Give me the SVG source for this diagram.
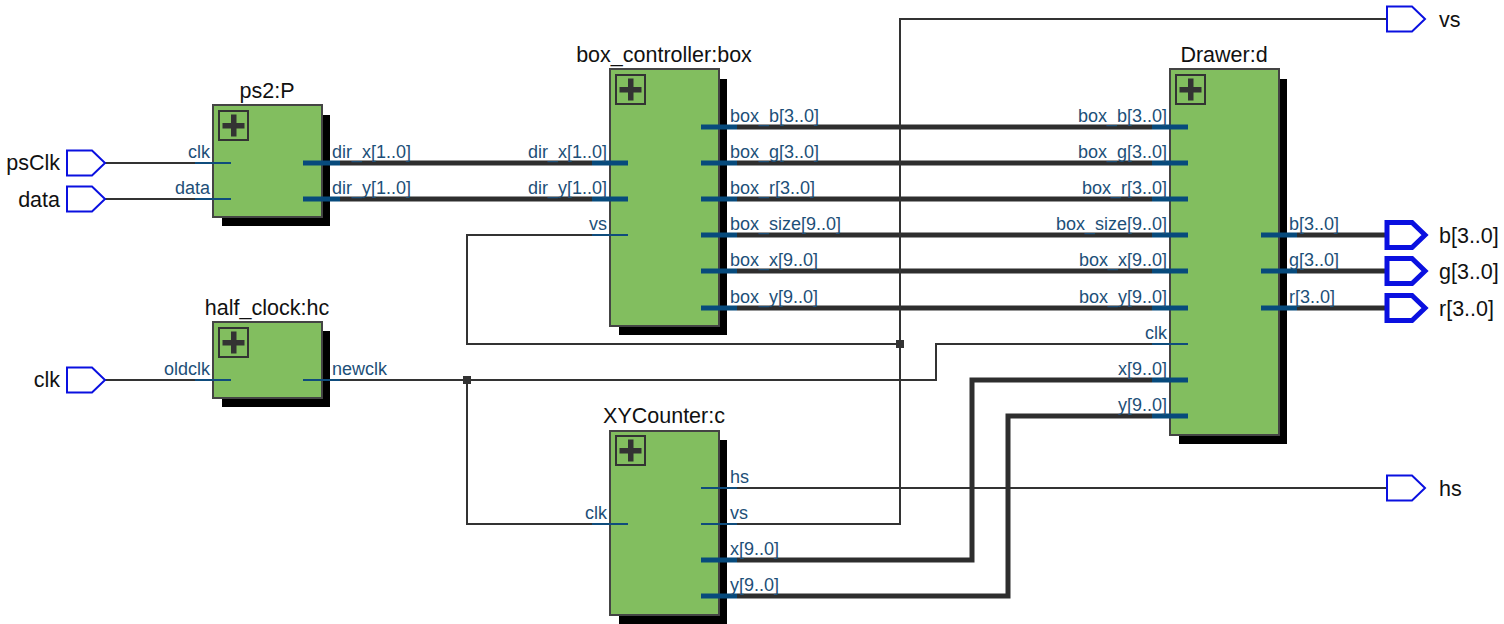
<svg xmlns="http://www.w3.org/2000/svg" width="1504" height="624" viewBox="0 0 1504 624">
<style>
text{font-family:"Liberation Sans",Arial,sans-serif}
.t{font-size:21.5px;fill:#111}
.m{text-anchor:middle}
.e{text-anchor:end}
.l{font-size:18px;fill:#1d4f78}
.w{fill:none;stroke:#333;stroke-width:2}
.b{fill:none;stroke:#2e2e2e;stroke-width:5}
.p{stroke:#0f4c7c;stroke-width:2;fill:none}
.q{stroke:#074a7c;stroke-width:5;fill:none}
.s{fill:#000}
.r{fill:#82be5f;stroke:#444;stroke-width:2}
.x{fill:none;stroke:#333;stroke-width:2}
.c{fill:#333}
.i{fill:#fff;stroke:#0a10e0;stroke-width:2}
.o{fill:#fff;stroke:#0a10e0;stroke-width:5}
</style>
<defs>
<g id="plus"><rect class="x" x="0" y="0" width="29" height="29"/><rect class="c" x="3.500" y="12" width="22" height="5.500"/><rect class="c" x="12" y="3.500" width="5.500" height="22"/></g>
<path id="port" d="M0-12.500H25L38 0 25 12.500H0Z"/>
</defs>
<g id="connectors">
<path class="w" d="M105 163H195M105 199H195M105 380H195"/>
<path class="b" d="M340 163H592M340 199H592"/>
<path class="b" d="M737 127H1152M737 163H1152M737 199H1152M737 235H1152M737 271H1152M737 308H1152"/>
<path class="b" d="M1297 235H1386M1297 271H1386M1297 308H1386"/>
<path class="w" d="M592 235H467V344H900"/>
<path class="w" d="M340 380H936V344H1152"/>
<path class="w" d="M467 380V524H592"/>
<path class="w" d="M737 524H900V19H1386"/>
<path class="w" d="M737 488H1386"/>
<path class="b" d="M737 560H972V380H1152"/>
<path class="b" d="M737 596H1008V416H1152"/>
<rect class="c" x="463" y="376" width="8" height="8"/>
<rect class="c" x="896" y="340" width="8" height="8"/>
</g>
<g id="port-psClk"><use href="#port" class="i" x="67" y="163"/><text class="t e" x="60" y="170">psClk</text></g>
<g id="port-data"><use href="#port" class="i" x="67" y="199"/><text class="t e" x="60" y="207">data</text></g>
<g id="port-clk"><use href="#port" class="i" x="67" y="380"/><text class="t e" x="60" y="387">clk</text></g>
<g id="port-vs"><use href="#port" class="i" x="1387" y="19"/><text class="t" x="1439" y="27">vs</text></g>
<g id="port-hs"><use href="#port" class="i" x="1387" y="488"/><text class="t" x="1439" y="496">hs</text></g>
<g id="port-b"><use href="#port" class="o" x="1387" y="235"/><text class="t" x="1439" y="243">b[3..0]</text></g>
<g id="port-g"><use href="#port" class="o" x="1387" y="271"/><text class="t" x="1439" y="279">g[3..0]</text></g>
<g id="port-r"><use href="#port" class="o" x="1387" y="308"/><text class="t" x="1439" y="316">r[3..0]</text></g>
<g id="node-ps2">
<rect class="s" x="222" y="115" width="108" height="111"/><rect class="r" x="213" y="105" width="109" height="112"/>
<use href="#plus" x="219" y="111"/>
<text class="t m" x="267" y="98">ps2:P</text>
<path class="p" d="M195 163H231M195 199H231"/><path class="q" d="M303 163H340M303 199H340"/>
<text class="l e" x="210" y="158">clk</text><text class="l e" x="210" y="194">data</text>
<text class="l" x="332" y="158">dir_x[1..0]</text><text class="l" x="332" y="194">dir_y[1..0]</text>
</g>
<g id="node-half_clock">
<rect class="s" x="222" y="331" width="108" height="76"/><rect class="r" x="213" y="322" width="109" height="76"/>
<use href="#plus" x="219" y="328"/>
<text class="t m" x="267" y="315">half_clock:hc</text>
<path class="p" d="M195 380H231M303 380H340"/>
<text class="l e" x="210" y="375">oldclk</text><text class="l" x="332" y="375">newclk</text>
</g>
<g id="node-box_controller">
<rect class="s" x="619" y="79" width="108" height="256"/><rect class="r" x="610" y="69" width="109" height="257"/>
<use href="#plus" x="616" y="75"/>
<text class="t m" x="664" y="62">box_controller:box</text>
<path class="q" d="M592 163H628M592 199H628M701 127H737M701 163H737M701 199H737M701 235H737M701 271H737M701 308H737"/>
<path class="p" d="M592 235H628"/>
<text class="l e" x="607" y="158">dir_x[1..0]</text><text class="l e" x="607" y="194">dir_y[1..0]</text><text class="l e" x="607" y="230">vs</text>
<text class="l" x="730" y="122">box_b[3..0]</text><text class="l" x="730" y="158">box_g[3..0]</text><text class="l" x="730" y="194">box_r[3..0]</text><text class="l" x="730" y="230">box_size[9..0]</text><text class="l" x="730" y="266">box_x[9..0]</text><text class="l" x="730" y="303">box_y[9..0]</text>
</g>
<g id="node-XYCounter">
<rect class="s" x="619" y="440" width="108" height="184"/><rect class="r" x="610" y="431" width="109" height="184"/>
<use href="#plus" x="616" y="436"/>
<text class="t m" x="664" y="423">XYCounter:c</text>
<path class="p" d="M592 524H628M701 488H737M701 524H737"/><path class="q" d="M701 560H737M701 596H737"/>
<text class="l e" x="607" y="519">clk</text>
<text class="l" x="730" y="483">hs</text><text class="l" x="730" y="519">vs</text><text class="l" x="730" y="555">x[9..0]</text><text class="l" x="730" y="591">y[9..0]</text>
</g>
<g id="node-Drawer">
<rect class="s" x="1179" y="79" width="108" height="365"/><rect class="r" x="1170" y="69" width="109" height="366"/>
<use href="#plus" x="1176" y="75"/>
<text class="t m" x="1224" y="62">Drawer:d</text>
<path class="q" d="M1152 127H1188M1152 163H1188M1152 199H1188M1152 235H1188M1152 271H1188M1152 308H1188M1152 380H1188M1152 416H1188M1261 235H1297M1261 271H1297M1261 308H1297"/>
<path class="p" d="M1152 344H1188"/>
<text class="l e" x="1167" y="122">box_b[3..0]</text><text class="l e" x="1167" y="158">box_g[3..0]</text><text class="l e" x="1167" y="194">box_r[3..0]</text><text class="l e" x="1167" y="230">box_size[9..0]</text><text class="l e" x="1167" y="266">box_x[9..0]</text><text class="l e" x="1167" y="303">box_y[9..0]</text><text class="l e" x="1167" y="339">clk</text><text class="l e" x="1167" y="375">x[9..0]</text><text class="l e" x="1167" y="411">y[9..0]</text>
<text class="l" x="1289" y="230">b[3..0]</text><text class="l" x="1289" y="266">g[3..0]</text><text class="l" x="1289" y="303">r[3..0]</text>
</g>
</svg>
